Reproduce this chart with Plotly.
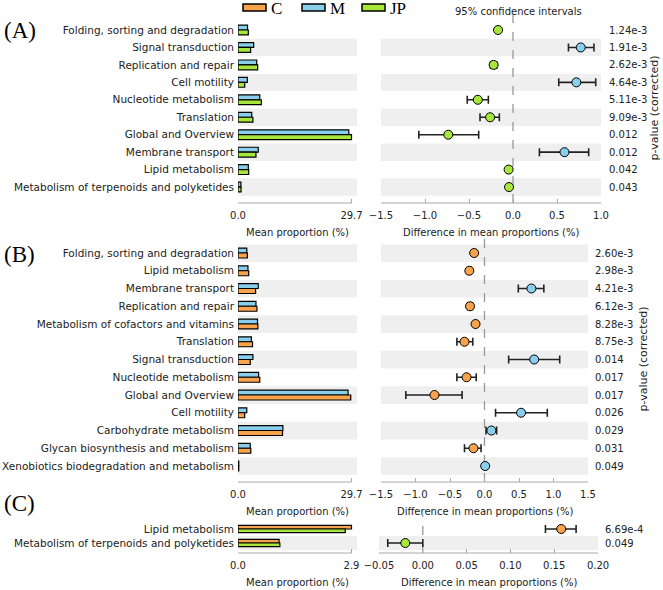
import plotly.graph_objects as go

W, H = 663, 590
FONT = 'DejaVu Sans'
SERIF = 'Liberation Serif'
C_COL, M_COL, JP_COL = '#F9A34D', '#89CFEB', '#A7E63A'
STRIPE = '#EFEFEF'
AXC = '#A8A8A8'
TXT = '#222222'

# ---------------- data ----------------
# Panel A : M vs JP
a_cats = ['Folding, sorting and degradation', 'Signal transduction', 'Replication and repair',
          'Cell motility', 'Nucleotide metabolism', 'Translation', 'Global and Overview',
          'Membrane transport', 'Lipid metabolism', 'Metabolism of terpenoids and polyketides']
a_M = [2.5, 4.1, 4.9, 2.45, 5.7, 3.6, 29.0, 5.3, 2.7, 0.75]
a_JP = [2.7, 3.3, 5.15, 1.75, 6.1, 3.9, 29.7, 4.7, 2.8, 0.8]
a_diff = [-0.17, 0.77, -0.22, 0.72, -0.40, -0.26, -0.735, 0.585, -0.05, -0.045]
a_lo = [-0.19, 0.63, -0.255, 0.52, -0.52, -0.375, -1.07, 0.30, -0.07, -0.06]
a_hi = [-0.15, 0.92, -0.185, 0.94, -0.28, -0.155, -0.39, 0.86, -0.03, -0.03]
a_p = ['1.24e-3', '1.91e-3', '2.62e-3', '4.64e-3', '5.11e-3', '9.09e-3', '0.012', '0.012', '0.042', '0.043']

# Panel B : M vs C
b_cats = ['Folding, sorting and degradation', 'Lipid metabolism', 'Membrane transport',
          'Replication and repair', 'Metabolism of cofactors and vitamins', 'Translation',
          'Signal transduction', 'Nucleotide metabolism', 'Global and Overview', 'Cell motility',
          'Carbohydrate metabolism', 'Glycan biosynthesis and metabolism',
          'Xenobiotics biodegradation and metabolism']
b_M = [2.3, 2.6, 5.3, 4.7, 5.1, 3.5, 3.9, 5.4, 28.8, 2.3, 11.75, 3.2, 0.2]
b_C = [2.45, 2.8, 4.6, 4.95, 5.2, 3.8, 3.2, 5.7, 29.5, 1.75, 11.65, 3.35, 0.2]
b_diff = [-0.15, -0.22, 0.68, -0.21, -0.13, -0.29, 0.72, -0.26, -0.725, 0.53, 0.10, -0.16, 0.01]
b_lo = [-0.17, -0.245, 0.49, -0.245, -0.15, -0.40, 0.35, -0.40, -1.14, 0.16, 0.022, -0.29, 0.0]
b_hi = [-0.13, -0.195, 0.86, -0.175, -0.11, -0.17, 1.09, -0.12, -0.325, 0.91, 0.176, -0.05, 0.02]
b_p = ['2.60e-3', '2.98e-3', '4.21e-3', '6.12e-3', '8.28e-3', '8.75e-3', '0.014', '0.017',
       '0.017', '0.026', '0.029', '0.031', '0.049']

# Panel C : C vs JP
c_cats = ['Lipid metabolism', 'Metabolism of terpenoids and polyketides']
c_C = [2.9, 1.05]
c_JP = [2.74, 1.07]
c_diff = [0.158, -0.02]
c_lo = [0.14, -0.04]
c_hi = [0.175, 0.0]
c_p = ['6.69e-4', '0.049']

bar_max = [29.7, 29.7, 2.9]
diff_ranges = [(-1.5, 1.0), (-1.5, 1.5), (-0.05, 0.20)]
diff_dticks = [0.5, 0.5, 0.05]
diff_fmt = ['.1f', '.1f', '.2f']
legend_names = ['C', 'M', 'JP']
legend_cols = [C_COL, M_COL, JP_COL]


def fx(px):
    return px / W


def fy(py):
    return 1 - py / H


fig = go.Figure()
shapes = []
annots = []
layout = {}

panels = [
    dict(cats=a_cats, g1=a_M, g2=a_JP, c1=M_COL, c2=JP_COL, diff=a_diff, lo=a_lo, hi=a_hi, p=a_p,
         y0=30, pitch=17.45, axy=203, dx=(381, 601), px=607, ptitle=655, bw=0.28, label='(A)', ly=31),
    dict(cats=b_cats, g1=b_M, g2=b_C, c1=M_COL, c2=C_COL, diff=b_diff, lo=b_lo, hi=b_hi, p=b_p,
         y0=253, pitch=17.75, axy=482, dx=(381, 588), px=593, ptitle=643, bw=0.28, label='(B)', ly=254),
    dict(cats=c_cats, g1=c_C, g2=c_JP, c1=C_COL, c2=JP_COL, diff=c_diff, lo=c_lo, hi=c_hi, p=c_p,
         y0=529, pitch=14, axy=553, dx=(379, 598), px=603, ptitle=None, bw=0.26, label='(C)', ly=503),
]

BAR_X0, BAR_X1, BAR_TICK = 238, 357, 351.5

for k, P in enumerate(panels):
    n = len(P['cats'])
    top_px = P['y0'] - P['pitch'] / 2
    rows_bottom = P['y0'] + (n - 0.5) * P['pitch']
    bottom_val = n - 0.5 + (P['axy'] - rows_bottom) / P['pitch']
    ydom = [fy(P['axy']), fy(top_px)]
    ia, ib = 2 * k + 1, 2 * k + 2
    xa_b, ya_b = f'x{ia}' if ia > 1 else 'x', f'y{ia}' if ia > 1 else 'y'
    xa_d, ya_d = f'x{ib}', f'y{ib}'
    idx = list(range(n))

    # ---- mean proportion bars
    off = P['bw'] / 2
    fig.add_trace(go.Bar(x=P['g1'], y=[i - off for i in idx], orientation='h', width=P['bw'],
                         marker=dict(color=P['c1'], line=dict(color='black', width=1.2)),
                         xaxis=xa_b, yaxis=ya_b, showlegend=False, hoverinfo='skip'))
    fig.add_trace(go.Bar(x=P['g2'], y=[i + off for i in idx], orientation='h', width=P['bw'],
                         marker=dict(color=P['c2'], line=dict(color='black', width=1.2)),
                         xaxis=xa_b, yaxis=ya_b, showlegend=False, hoverinfo='skip'))

    # ---- difference dots with CI
    cols = [P['c1'] if d >= 0 else P['c2'] for d in P['diff']]
    fig.add_trace(go.Scatter(x=P['diff'], y=idx, mode='markers',
                             marker=dict(size=9, color=cols, line=dict(color='black', width=1)),
                             error_x=dict(type='data', symmetric=False,
                                          array=[h - d for h, d in zip(P['hi'], P['diff'])],
                                          arrayminus=[d - l for d, l in zip(P['diff'], P['lo'])],
                                          color='#222222', thickness=1.6, width=4),
                             xaxis=xa_d, yaxis=ya_d, showlegend=False, hoverinfo='skip'))

    bmax = bar_max[k]
    rng_max = bmax * (BAR_X1 - BAR_X0) / (BAR_TICK - BAR_X0)
    tickfont = dict(family=FONT, size=10, color=TXT)
    catfont = dict(family=FONT, size=10.5, color=TXT)
    layout['xaxis' if ia == 1 else f'xaxis{ia}'] = dict(
        domain=[fx(BAR_X0), fx(BAR_X1)], range=[0, rng_max], anchor=ya_b, automargin=False,
        tickvals=[0, bmax], tickformat='.1f', ticks='inside', ticklen=4, tickcolor=AXC,
        ticklabelstandoff=5,
        showgrid=False, zeroline=False, showline=False, tickfont=tickfont, fixedrange=True)
    layout['yaxis' if ia == 1 else f'yaxis{ia}'] = dict(
        domain=ydom, range=[bottom_val, -0.5], anchor=xa_b, tickvals=idx, ticktext=P['cats'],
        automargin=False, ticks='', ticklabelstandoff=3, showgrid=False, zeroline=False,
        showline=False, tickfont=catfont, fixedrange=True)
    d0, d1 = diff_ranges[k]
    layout[f'xaxis{ib}'] = dict(
        domain=[fx(P['dx'][0]), fx(P['dx'][1])], range=[d0, d1], anchor=ya_d, automargin=False,
        tick0=d0, dtick=diff_dticks[k], tickformat=diff_fmt[k], ticks='inside', ticklen=4,
        ticklabelstandoff=5,
        tickcolor=AXC, showgrid=False, zeroline=False, showline=False, tickfont=tickfont, fixedrange=True)
    layout[f'yaxis{ib}'] = dict(
        domain=ydom, range=[bottom_val, -0.5], anchor=xa_d, showticklabels=False, ticks='',
        automargin=False, showgrid=False, zeroline=False, showline=False, fixedrange=True)

    # stripes
    for i in idx:
        if (n - 1 - i) % 2 == 0:
            for xr, yr in ((xa_b, ya_b), (xa_d, ya_d)):
                shapes.append(dict(type='rect', xref=f'{xr} domain', yref=yr, x0=0, x1=1,
                                   y0=i - 0.5, y1=i + 0.5, fillcolor=STRIPE, line=dict(width=0),
                                   layer='below'))
    # axis lines
    shapes.append(dict(type='line', xref=xa_b, yref='paper', x0=0, x1=bmax,
                       y0=fy(P['axy']), y1=fy(P['axy']), line=dict(color=AXC, width=1)))
    shapes.append(dict(type='line', xref=f'{xa_d} domain', yref='paper', x0=0, x1=1,
                       y0=fy(P['axy']), y1=fy(P['axy']), line=dict(color=AXC, width=1)))
    # zero dashed line
    shapes.append(dict(type='line', xref=xa_d, yref='paper', x0=0, x1=0,
                       y0=fy(P['axy']), y1=fy(top_px - 7), line=dict(color='#999999', width=1.3, dash='dash'),
                       layer='below'))

    # p-values
    for i, pv in zip(idx, P['p']):
        annots.append(dict(text=pv, xref='paper', yref=ya_d, x=fx(P['px']), y=i, xanchor='left',
                           yanchor='middle', showarrow=False, font=dict(family=FONT, size=10, color=TXT)))
    if P['ptitle']:
        annots.append(dict(text='p-value (corrected)', xref='paper', yref='paper', x=fx(P['ptitle']),
                           y=fy((top_px + rows_bottom) / 2), textangle=-90, showarrow=False,
                           xanchor='center', yanchor='middle', font=dict(family=FONT, size=11, color=TXT)))
    # axis titles
    annots.append(dict(text='Mean proportion (%)', xref='paper', yref='paper',
                       x=fx((BAR_X0 + BAR_X1) / 2), y=fy(P['axy'] + 29), showarrow=False,
                       xanchor='center', yanchor='middle', font=dict(family=FONT, size=10, color=TXT)))
    annots.append(dict(text='Difference in mean proportions (%)', xref='paper', yref='paper',
                       x=fx(sum(P['dx']) / 2), y=fy(P['axy'] + 29), showarrow=False,
                       xanchor='center', yanchor='middle', font=dict(family=FONT, size=10, color=TXT)))
    # panel label
    annots.append(dict(text=P['label'], xref='paper', yref='paper', x=fx(2), y=fy(P['ly']),
                       xanchor='left', yanchor='middle', showarrow=False,
                       font=dict(family=SERIF, size=23, color='black')))

annots.append(dict(text='95% confidence intervals', xref='paper', yref='paper', x=fx(518), y=fy(11),
                   xanchor='center', yanchor='middle', showarrow=False,
                   font=dict(family=FONT, size=10, color=TXT)))

# legend
leg_x = [243, 302, 362]
for lx, name, col in zip(leg_x, legend_names, legend_cols):
    shapes.append(dict(type='rect', xref='paper', yref='paper', x0=fx(lx), x1=fx(lx + 23),
                       y0=fy(11), y1=fy(4), fillcolor=col, line=dict(color='black', width=1.5)))
    annots.append(dict(text=name, xref='paper', yref='paper', x=fx(lx + 26), y=fy(8),
                       xanchor='left', yanchor='middle', showarrow=False,
                       font=dict(family=SERIF, size=17, color='black')))

fig.update_layout(width=W, height=H, margin=dict(l=0, r=0, t=0, b=0, autoexpand=False),
                  plot_bgcolor='white', paper_bgcolor='white', showlegend=False, shapes=shapes,
                  annotations=annots, barmode='overlay', hovermode=False, **layout)

fig.write_html('out.html', config={'displayModeBar': False, 'staticPlot': True},
               post_script="document.body.style.margin='0px';document.body.style.overflow='hidden';")
